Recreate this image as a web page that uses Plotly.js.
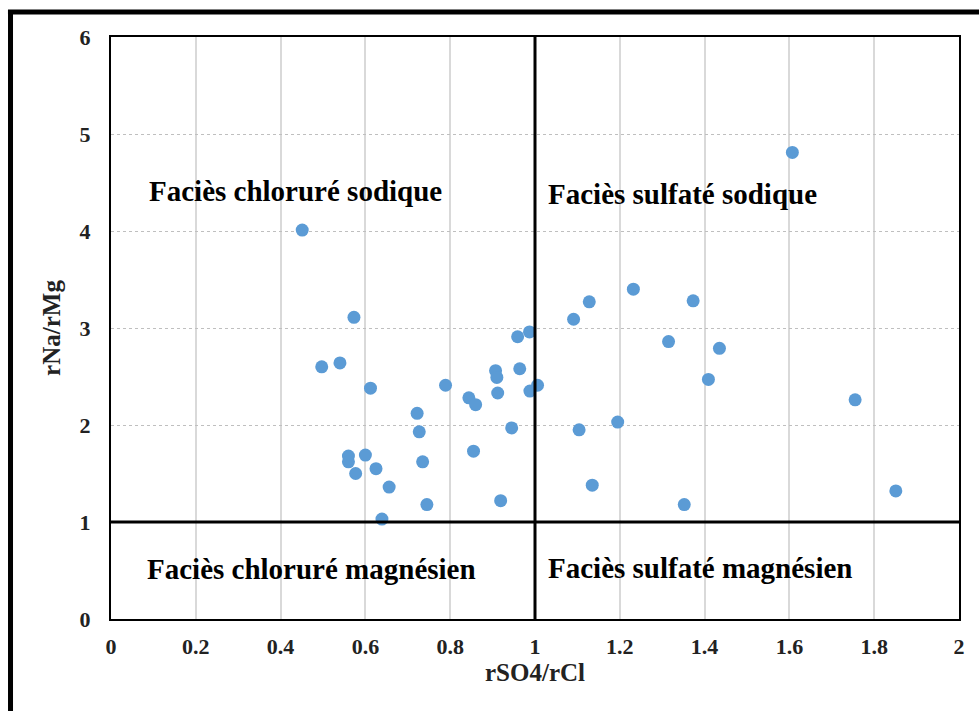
<!DOCTYPE html>
<html>
<head>
<meta charset="utf-8">
<script src="https://cdn.plot.ly/plotly-3.0.1.min.js"></script>
<style>html,body{margin:0;padding:0;background:#fff;}#chart{width:979px;height:711px;}</style>
</head>
<body>
<div id="chart"></div>
<script>
// rSO4/rCl values
const rSO4_rCl = [
  0.451, 0.573, 0.497, 0.540, 0.612, 0.560, 0.560, 0.600, 0.577, 0.625,
  0.656, 0.639, 0.722, 0.727, 0.735, 0.745, 0.789, 0.844, 0.860, 0.855,
  0.907, 0.910, 0.912, 0.919, 0.945, 0.959, 0.964, 0.987, 0.988, 1.006,
  1.607, 1.232, 1.128, 1.373, 1.091, 1.315, 1.435, 1.409, 1.755, 1.195,
  1.104, 1.135, 1.352, 1.851
];
// rNa/rMg values
const rNa_rMg = [
  4.01, 3.11, 2.60, 2.64, 2.38, 1.68, 1.62, 1.69, 1.50, 1.55,
  1.36, 1.03, 2.12, 1.93, 1.62, 1.18, 2.41, 2.28, 2.21, 1.73,
  2.56, 2.49, 2.33, 1.22, 1.97, 2.91, 2.58, 2.96, 2.35, 2.41,
  4.81, 3.40, 3.27, 3.28, 3.09, 2.86, 2.79, 2.47, 2.26, 2.03,
  1.95, 1.38, 1.18, 1.32
];
const xTicks = [0, 0.2, 0.4, 0.6, 0.8, 1, 1.2, 1.4, 1.6, 1.8, 2];
const xTickLabels = ["0", "0.2", "0.4", "0.6", "0.8", "1", "1.2", "1.4", "1.6", "1.8", "2"];
const yTicks = [0, 1, 2, 3, 4, 5, 6];
const faciesLabels = ["Faciès chloruré sodique", "Faciès sulfaté sodique", "Faciès chloruré magnésien", "Faciès sulfaté magnésien"];
const xLimit = 1;   // rSO4/rCl boundary
const yLimit = 1;   // rNa/rMg boundary

const serif = "Liberation Serif, Times New Roman, serif";

const trace = {
  type: "scatter",
  mode: "markers",
  x: rSO4_rCl,
  y: rNa_rMg,
  marker: {color: "#5b9bd5", size: 13, line: {width: 0}},
  hoverinfo: "x+y",
  showlegend: false
};

const annFont = {family: serif, size: 29, color: "#000", weight: "bold"};
const layout = {
  width: 979,
  height: 711,
  margin: {l: 111, r: 20, t: 37, b: 92},
  paper_bgcolor: "#fff",
  plot_bgcolor: "#fff",
  showlegend: false,
  xaxis: {
    range: [0, 2],
    tickvals: xTicks,
    ticktext: xTickLabels,
    showgrid: true,
    gridcolor: "#d9d9d9",
    gridwidth: 2,
    zeroline: false,
    showline: true,
    linecolor: "#000",
    linewidth: 2,
    mirror: true,
    ticks: "outside",
    ticklen: 7,
    tickcolor: "rgba(0,0,0,0)",
    tickfont: {family: serif, size: 22, color: "#222", weight: "bold"},
    title: {text: "rSO4/rCl", font: {family: serif, size: 25, color: "#222", weight: "bold"}, standoff: 4}
  },
  yaxis: {
    range: [0, 6],
    tickvals: yTicks,
    showgrid: true,
    gridcolor: "#bfbfbf",
    gridwidth: 1,
    griddash: "dot",
    zeroline: false,
    showline: true,
    linecolor: "#000",
    linewidth: 2,
    mirror: true,
    ticks: "outside",
    ticklen: 14,
    tickcolor: "rgba(0,0,0,0)",
    tickfont: {family: serif, size: 22, color: "#222", weight: "bold"},
    title: {text: "rNa/rMg", font: {family: serif, size: 25, color: "#222", weight: "bold"}, standoff: 12}
  },
  shapes: [
    {type: "line", xref: "x", yref: "y", x0: xLimit, x1: xLimit, y0: 0, y1: 6, line: {color: "#000", width: 3}},
    {type: "line", xref: "x", yref: "y", x0: 0, x1: 2, y0: yLimit, y1: yLimit, line: {color: "#000", width: 3}},
    // outer frame (left and top)
    {type: "line", xref: "paper", yref: "paper", x0: -0.1185, x1: -0.1185, y0: -0.2, y1: 1.043, line: {color: "#000", width: 5}},
    {type: "line", xref: "paper", yref: "paper", x0: -0.1215, x1: 1.05, y0: 1.043, y1: 1.043, line: {color: "#000", width: 5}}
  ],
  annotations: [
    {text: faciesLabels[0], xref: "x", yref: "y", x: 0.085, y: 4.41, xanchor: "left", yanchor: "middle", showarrow: false, font: annFont},
    {text: faciesLabels[1], xref: "x", yref: "y", x: 1.026, y: 4.38, xanchor: "left", yanchor: "middle", showarrow: false, font: annFont},
    {text: faciesLabels[2], xref: "x", yref: "y", x: 0.081, y: 0.52, xanchor: "left", yanchor: "middle", showarrow: false, font: annFont},
    {text: faciesLabels[3], xref: "x", yref: "y", x: 1.026, y: 0.53, xanchor: "left", yanchor: "middle", showarrow: false, font: annFont}
  ]
};

Plotly.newPlot("chart", [trace], layout, {displayModeBar: false, staticPlot: true});
</script>
</body>
</html>
